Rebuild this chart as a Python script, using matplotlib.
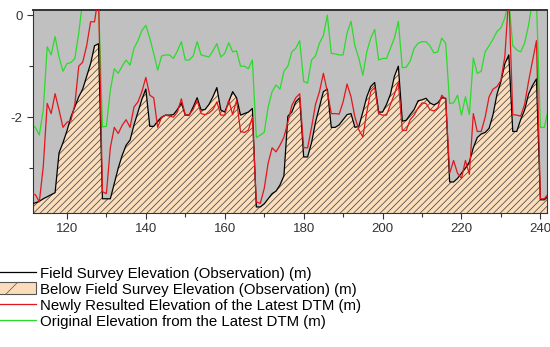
import numpy as np
import matplotlib
matplotlib.use("Agg")
import matplotlib.pyplot as plt
from matplotlib.lines import Line2D
from matplotlib.patches import Patch

plt.rcParams['font.family'] = ['Liberation Sans', 'DejaVu Sans']
plt.rcParams['axes.unicode_minus'] = False
plt.rcParams['hatch.linewidth'] = 0.5

# stations along the profile
station = np.arange(111, 243)

# field survey elevation (observation), m
survey = [-3.70, -3.68, -3.65, -3.60, -3.56, -3.52, -3.48, -2.70, -2.50, -2.27,
          -2.00, -1.80, -1.60, -1.45, -1.20, -0.95, -0.60, -0.56, -3.60, -3.60,
          -3.60, -3.30, -3.00, -2.75, -2.55, -2.45, -2.15, -1.90, -1.65, -1.45,
          -2.18, -2.18, -2.08, -2.00, -1.96, -1.96, -1.95, -1.85, -1.72, -1.96,
          -1.96, -1.80, -1.62, -1.86, -1.85, -1.75, -1.60, -1.42, -1.86, -1.90,
          -1.70, -1.50, -1.62, -1.96, -1.93, -1.90, -1.83, -3.76, -3.76, -3.70,
          -3.60, -3.50, -3.45, -3.33, -3.15, -1.98, -1.90, -1.70, -1.62, -2.78,
          -2.78, -2.50, -2.10, -1.80, -1.50, -1.45, -2.20, -2.20, -2.15, -2.05,
          -1.95, -1.93, -2.20, -2.18, -1.90, -1.60, -1.40, -1.32, -1.90, -1.90,
          -1.75, -1.55, -1.20, -1.00, -2.08, -2.06, -1.95, -1.85, -1.68, -1.66,
          -1.63, -1.72, -1.76, -1.72, -1.62, -1.63, -3.27, -3.27, -3.20, -3.10,
          -3.00, -2.88, -2.60, -2.40, -2.33, -2.30, -2.22, -1.95, -1.55, -1.30,
          -0.95, -0.78, -2.28, -2.28, -2.05, -1.86, -1.55, -1.38, -1.25, -3.62,
          -3.62, -3.55]

# newly resulted elevation of the latest DTM, m
new_dtm = [-3.50, -3.52, -3.66, -2.97, -1.73, -1.93, -1.54, -1.86, -2.20, -2.10,
           -2.07, -1.75, -1.00, -0.92, -0.60, -0.13, -0.13, 0.40, -3.46, -3.50,
           -2.60, -2.20, -2.32, -2.16, -2.05, -2.20, -1.80, -1.70, -1.50, -1.22,
           -1.57, -1.62, -2.20, -2.00, -1.96, -1.98, -2.00, -1.90, -1.64, -1.96,
           -1.95, -1.85, -1.67, -1.93, -1.95, -1.92, -1.85, -1.70, -1.96, -1.96,
           -1.67, -1.95, -1.67, -2.28, -2.30, -2.25, -2.00, -3.66, -3.69, -3.40,
           -2.90, -2.60, -2.68, -2.55, -2.39, -2.10, -1.77, -1.62, -1.54, -2.60,
           -2.60, -2.20, -1.75, -1.50, -1.14, -1.50, -1.93, -1.93, -1.94, -1.70,
           -1.35, -1.60, -2.00, -2.25, -2.39, -1.90, -1.50, -1.42, -1.93, -1.96,
           -1.96, -1.75, -1.55, -1.32, -2.26, -2.26, -2.05, -1.96, -1.82, -1.72,
           -1.73, -1.85, -1.88, -1.82, -1.57, -1.65, -3.10, -2.85, -3.10, -3.20,
           -2.85, -3.12, -1.93, -2.28, -2.28, -2.00, -1.60, -1.45, -1.40, -1.28,
           -0.80, 0.40, -1.95, -1.96, -1.98, -1.75, -1.30, -0.90, -0.50, -3.60,
           -3.60, -3.50]

# original elevation from the latest DTM, m
orig_dtm = [-2.15, -2.20, -2.35, -1.86, -0.62, -0.78, -0.42, -0.82, -1.10, -0.95,
            -0.93, -0.85, -0.35, 0.30, 0.40, 0.40, 0.40, 0.30, -2.19, -2.18,
            -1.47, -1.05, -1.14, -1.00, -0.88, -0.98, -0.65, -0.50, -0.30, -0.20,
            -0.45, -0.75, -1.08, -0.80, -0.78, -0.78, -0.85, -0.70, -0.52, -0.88,
            -0.88, -0.80, -0.52, -0.78, -0.80, -0.82, -0.70, -0.56, -0.82, -0.75,
            -0.54, -0.72, -0.70, -1.00, -1.00, -1.05, -0.88, -2.40, -2.35, -2.30,
            -1.80, -1.50, -1.37, -1.45, -1.10, -1.00, -0.72, -0.65, -0.50, -1.30,
            -1.33, -0.88, -0.80, -0.55, -0.40, 0.00, -0.75, -0.76, -0.78, -0.78,
            -0.35, -0.12, -0.60, -0.85, -1.18, -0.72, -0.45, -0.28, -0.88, -0.85,
            -0.85, -0.65, -0.45, -0.12, -1.03, -1.02, -0.90, -0.65, -0.55, -0.52,
            -0.52, -0.60, -0.74, -0.72, -0.45, -0.55, -1.73, -1.72, -1.57, -1.96,
            -1.60, -1.95, -0.84, -1.14, -1.10, -0.72, -0.60, -0.47, -0.32, -0.25,
            -0.05, 0.30, -0.60, -0.68, -0.72, -0.55, -0.20, 0.30, 0.30, -2.20,
            -2.20, -1.85]

labels = ['Field Survey Elevation (Observation) (m)',
          'Below Field Survey Elevation (Observation) (m)',
          'Newly Resulted Elevation of the Latest DTM (m)',
          'Original Elevation from the Latest DTM (m)']

peach = '#FBDDBB'
red = '#E3161C'
green = '#2BDB2B'

fig = plt.figure(figsize=(5.5, 3.47), dpi=100)
ax = fig.add_axes([0.06, 0.386, 0.934, 0.585])
ax.set_facecolor('#C0C0C0')

y_bottom = -3.88
ax.fill_between(station, survey, y_bottom, facecolor=peach, edgecolor='#3a3a3a',
                linewidth=0, hatch='/////', zorder=1)
ax.plot(station, orig_dtm, color=green, lw=0.9, zorder=2)
ax.plot(station, survey, color='black', lw=0.9, zorder=3)
ax.plot(station, new_dtm, color=red, lw=0.9, zorder=4)

ax.set_xlim(111.4, 241.6)
ax.set_ylim(y_bottom, 0.1)
ax.set_xticks(range(120, 241, 20))
ax.set_xticks(range(130, 241, 20), minor=True)
ax.set_yticks([0, -2])
ax.set_yticks([-1, -3], minor=True)
ax.tick_params(which='both', direction='out', labelsize=9.5, colors='#333333',
               labelcolor='#333333', width=0.8)
ax.tick_params(which='major', length=4)
ax.tick_params(which='minor', length=3)
for s in ax.spines.values():
    s.set_color('#333333')
    s.set_linewidth(0.8)
ax.spines['top'].set_linewidth(1.4)

handles = [Line2D([], [], color='black', lw=0.9),
           Patch(facecolor=peach, edgecolor='#555555', hatch='/', lw=0.8),
           Line2D([], [], color=red, lw=0.9),
           Line2D([], [], color=green, lw=0.9)]
fig.legend(handles, labels, loc='upper left', bbox_to_anchor=(-0.012, 0.232),
           frameon=False, fontsize=10.8, handlelength=2.85, handleheight=0.85,
           handletextpad=0.25, labelspacing=0.12, borderpad=0, borderaxespad=0)

fig.savefig('out.png', dpi=100)
